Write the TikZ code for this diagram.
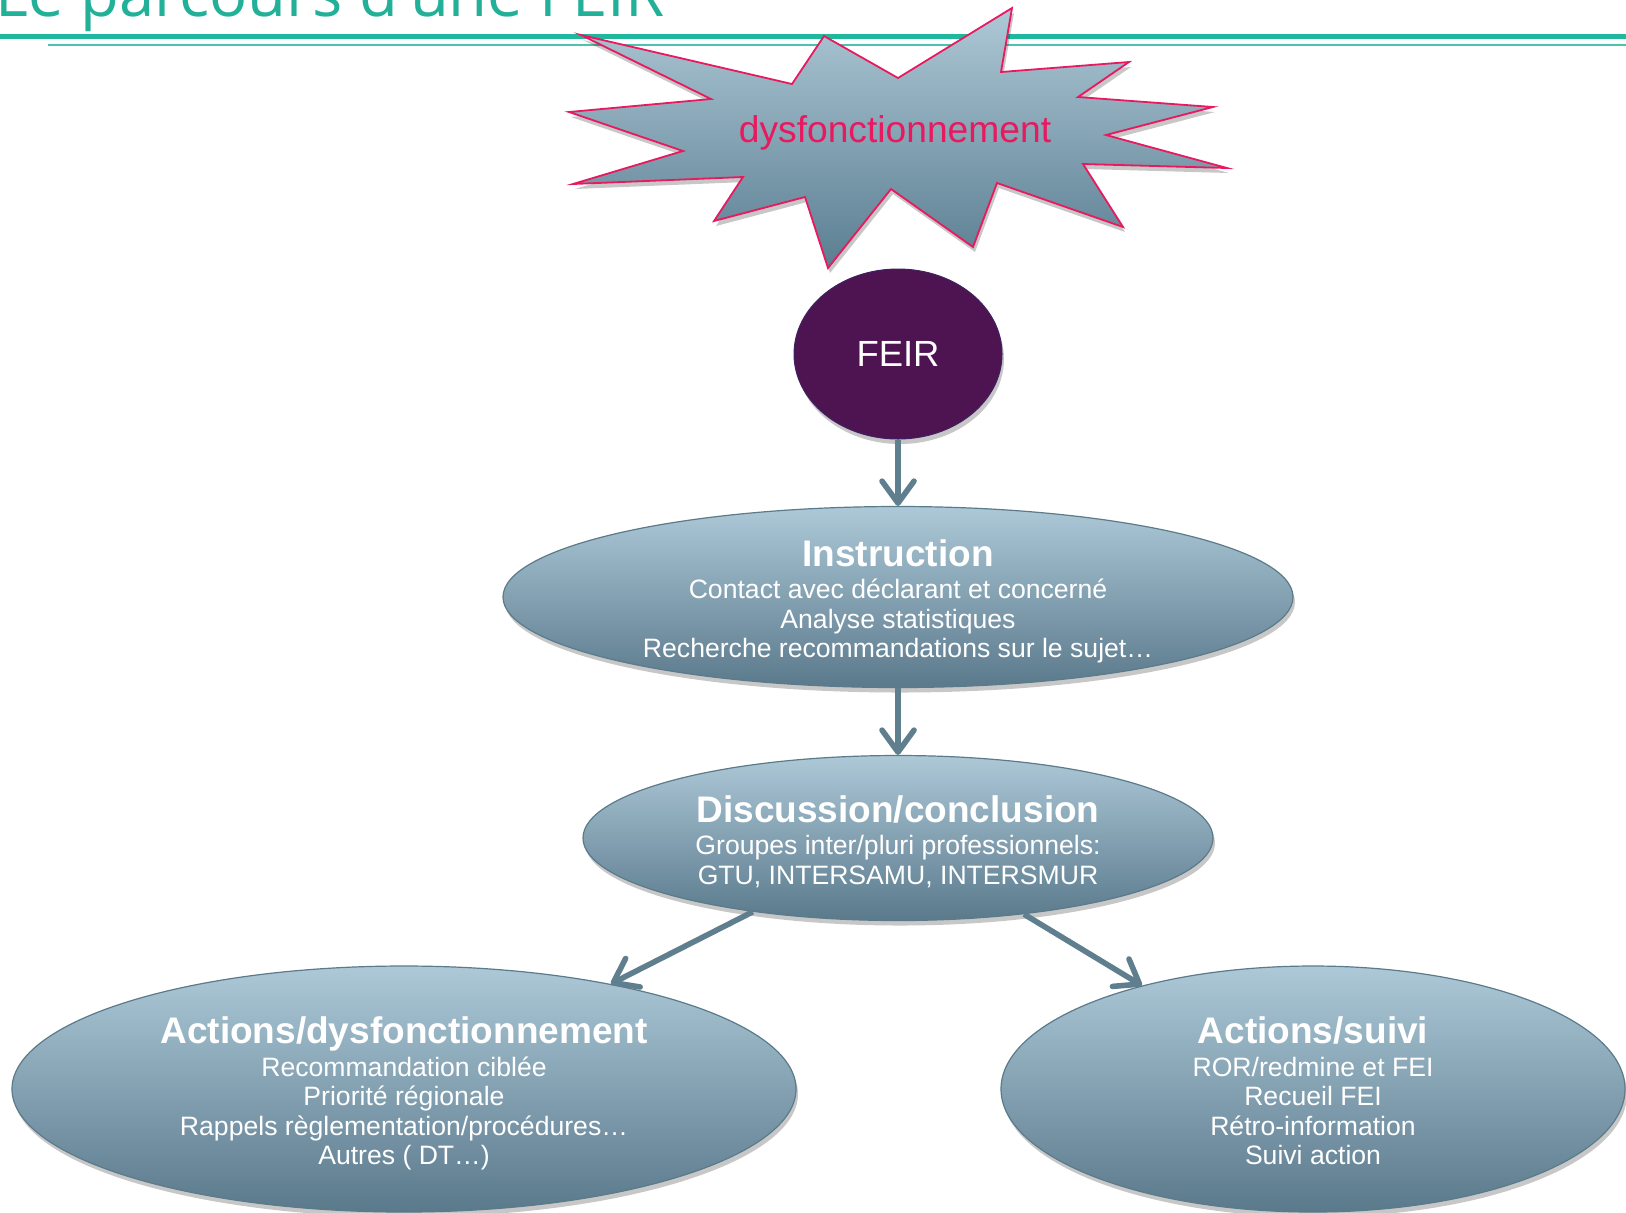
\documentclass[tikz,border=0pt]{standalone}
\usepackage{fontspec}
\setmainfont{Liberation Sans}
\newfontfamily\titlefont{Open Sans}
\usetikzlibrary{shapes.geometric,arrows.meta,shadows}
\definecolor{teal1}{HTML}{1FB89C}
\definecolor{teal2}{HTML}{4CC4AD}
\definecolor{titlec}{HTML}{22B099}
\definecolor{startop}{HTML}{AEC8D6}
\definecolor{starbot}{HTML}{5A7E91}
\definecolor{pinkc}{HTML}{E8195F}
\definecolor{eltop}{HTML}{ADC9D8}
\definecolor{elbot}{HTML}{5A798B}
\definecolor{elborder}{HTML}{5B7A8A}
\definecolor{arrc}{HTML}{5F7F8F}
\definecolor{feirc}{HTML}{4E1452}
\definecolor{feirborder}{HTML}{3E2160}
\newcommand{\bigtitleFont}{\fontsize{18.5}{18.5}\selectfont\bfseries}
\newcommand{\topstrut}{\rule{0pt}{19pt}}
\newcommand{\botstrut}{\rule[-4pt]{0pt}{4pt}}
\tikzset{
  softshadow/.style={drop shadow={shadow xshift=1pt, shadow yshift=-2.5pt, opacity=0.22, fill=black}},
  bubble/.style={ellipse, inner xsep=0pt, inner ysep=-8pt, top color=eltop, bottom color=elbot,
    draw=elborder, line width=0.6pt, text=white, align=center,
    font=\fontsize{13.3}{14.75}\selectfont, softshadow},
  flow/.style={draw=arrc, line width=2.8pt, -{Straight Barb[length=11pt,width=16pt,round]}},
}
\begin{document}
\begin{tikzpicture}[x=0.5pt,y=-0.5pt]
\useasboundingbox (0,0) rectangle (1626,1212);
\clip (0,0) rectangle (1626,1212);
% title and rules
\node[anchor=base west, inner sep=0pt, text=titlec, font=\titlefont\fontsize{31.7}{31.7}\selectfont] (title) at (-5,16) {Le parcours d'une FEIR};
\draw[teal1, line width=2.5pt] (0,36.8) -- (1626,36.8);
\draw[teal2, line width=0.75pt] (48,45) -- (1626,45);
% star
\shadedraw[top color=startop, bottom color=starbot, draw=pinkc, line width=0.9pt, softshadow]
  (581,35) -- (792,84) -- (824,36) -- (898,78) -- (1012,8) -- (1001,72) -- (1129,62)
  -- (1078,97) -- (1213,107) -- (1106,135) -- (1227,168) -- (1083,164) -- (1123,227)
  -- (997,183) -- (973,247) -- (891,189) -- (828,268) -- (805,197) -- (714,221)
  -- (743,177) -- (573,184) -- (683,151) -- (569,112) -- (711,99) -- cycle;
\node[text=pinkc, font=\fontsize{18.6}{18.6}\selectfont, inner sep=0pt] (dys) at (895,133) {dysfonctionnement};
% FEIR
\node[ellipse, inner sep=0pt, minimum width=104pt, minimum height=85pt, fill=feirc,
  draw=feirborder, line width=0.5pt, text=white, font=\fontsize{18.2}{18.2}\selectfont, softshadow] (feir) at (898,354) {FEIR};
% bubbles
\node[bubble, minimum width=395pt, minimum height=90.5pt] (instr) at (898,597)
  {\topstrut{\bigtitleFont Instruction}\\[1.5pt]Contact avec déclarant et concerné\\Analyse statistiques\\Recherche recommandations sur le sujet…\botstrut};
\node[bubble, minimum width=315pt, minimum height=82.5pt] (disc) at (898,838)
  {\topstrut{\bigtitleFont Discussion/conclusion}\\[1.5pt]Groupes inter/pluri professionnels:\\GTU, INTERSAMU, INTERSMUR\botstrut};
\node[bubble, minimum width=392pt, minimum height=123pt] (actd) at (404,1089)
  {\topstrut{\bigtitleFont Actions/dysfonctionnement}\\[1.5pt]Recommandation ciblée\\Priorité régionale\\Rappels règlementation/procédures…\\Autres ( DT…)\botstrut};
\node[bubble, minimum width=312pt, minimum height=123pt] (acts) at (1313,1089)
  {\topstrut{\bigtitleFont Actions/suivi}\\[1.5pt]ROR/redmine et FEI\\Recueil FEI\\Rétro-information\\Suivi action\botstrut};
% connectors
\draw[flow] (feir) -- (instr);
\draw[flow] (instr) -- (disc);
\draw[flow] (disc) -- (actd);
\draw[flow] (disc) -- (acts);
\end{tikzpicture}
\end{document}
